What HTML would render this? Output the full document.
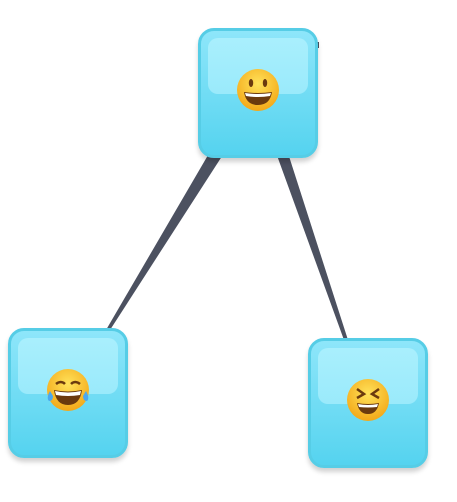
<!DOCTYPE html>
<html><head><style>
body{margin:0;width:457px;height:502px;background:#fff;overflow:hidden;position:relative;font-family:"Liberation Sans",sans-serif}
.n{position:absolute;width:114px;height:124px;border:3px solid #56cde6;border-radius:16px;background:linear-gradient(#8ee6fa,#55d3ef);box-shadow:0 4px 5px rgba(0,0,0,0.18)}
.n .g{position:absolute;left:7px;top:7px;right:7px;height:56px;border-radius:10px;background:linear-gradient(#a9effd,#9aeafb)}
.n svg{position:absolute;left:32px;top:34px}
</style></head><body>
<svg width="457" height="502" style="position:absolute;left:0;top:0">
<polygon points="211,150 226,150 110,330 106,330" fill="#4c5160"/>
<polygon points="275,150 287,150 348,340 344,340" fill="#4c5160"/>
<polygon points="316,42 319,42 319,48 316,48" fill="#4c5160"/>
</svg>
<div class="n" style="left:198px;top:28px"><div class="g"></div>
<svg width="50" height="50" viewBox="0 0 50 50"><defs><radialGradient id="f" cx="50%" cy="35%" r="65%"><stop offset="0" stop-color="#ffe25a"/><stop offset="1" stop-color="#f3a818"/></radialGradient></defs>
<circle cx="25" cy="25" r="21" fill="url(#f)"/><ellipse cx="18" cy="18" rx="2.2" ry="4" fill="#6b3a0e"/><ellipse cx="32" cy="18" rx="2.2" ry="4" fill="#6b3a0e"/><path d="M11 27 Q25 29 39 27 Q37 40 25 40 Q13 40 11 27Z" fill="#6b3a0e"/><path d="M12 28 Q25 30 38 28 L37 31 Q25 33 13 31Z" fill="#fff"/></svg></div>
<div class="n" style="left:8px;top:328px"><div class="g"></div>
<svg width="50" height="50" viewBox="0 0 50 50"><circle cx="25" cy="25" r="21" fill="url(#f)"/><path d="M13 19 Q18 15 22 19M28 19 Q32 15 37 19" stroke="#6b3a0e" stroke-width="2.5" fill="none"/><path d="M11 25 Q25 28 39 25 Q37 40 25 40 Q13 40 11 25Z" fill="#6b3a0e"/><path d="M12 26 Q25 29 38 26 L37 30 Q25 32 13 30Z" fill="#fff"/><path d="M7 26 Q3 33 6 36 Q10 36 10 31Z" fill="#4aa8ef"/><path d="M43 26 Q47 33 44 36 Q40 36 40 31Z" fill="#4aa8ef"/></svg></div>
<div class="n" style="left:308px;top:338px"><div class="g"></div>
<svg width="50" height="50" viewBox="0 0 50 50"><circle cx="25" cy="25" r="21" fill="url(#f)"/><path d="M14 14 L21 19 L14 23M36 14 L29 19 L36 23" stroke="#6b3a0e" stroke-width="2.5" fill="none"/><path d="M14 28 Q25 30 36 28 Q34 39 25 39 Q16 39 14 28Z" fill="#6b3a0e"/><path d="M15 29 Q25 31 35 29 L34 32 Q25 33 16 32Z" fill="#fff"/></svg></div>
</body></html>
